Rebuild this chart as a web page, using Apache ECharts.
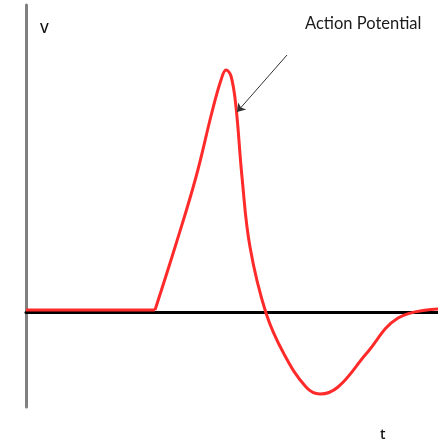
<!DOCTYPE html>
<html>
<head>
<meta charset="utf-8">
<title>Action Potential</title>
<script src="https://cdn.jsdelivr.net/npm/echarts@6/dist/echarts.min.js"></script>
<style>
html, body { margin: 0; padding: 0; background: #fff; }
#chart { width: 438px; height: 446px; }
</style>
</head>
<body>
<div id="chart"></div>
<script>
// resting phase (straight) and the spike (smoothed)
var restT = [0, 129];
var restV = [2, 2];
var spikeT = [129, 150, 170, 186, 195, 200, 205, 210, 216, 224, 240, 258, 280, 294, 312, 340, 372, 412];
var spikeV = [2, 68, 135, 200, 232, 242, 236, 205, 135, 65, -1, -42, -75, -82, -75, -42, -6, 3];
var arrowFrom = [261, 257];
var arrowTo = [211, 200];

function pairs(xs, ys) { return xs.map(function (x, i) { return [x, ys[i]]; }); }

var redLine = { color: '#ff2a2a', width: 3 };

var chart = echarts.init(document.getElementById('chart'));
chart.setOption({
	animation: false,
	grid: { left: 26, right: 0, top: 5, bottom: 39 },
	xAxis: {
		type: 'value',
		min: 0,
		max: 412,
		axisLine: { onZero: true, lineStyle: { color: '#000', width: 3 } },
		axisTick: { show: false },
		axisLabel: { show: false },
		splitLine: { show: false }
	},
	yAxis: {
		type: 'value',
		min: -95,
		max: 307,
		axisLine: { show: true, lineStyle: { color: '#808080', width: 3 } },
		axisTick: { show: false },
		axisLabel: { show: false },
		splitLine: { show: false }
	},
	series: [{
		type: 'line',
		data: pairs(restT, restV),
		symbol: 'none',
		lineStyle: redLine,
		z: 3
	}, {
		type: 'line',
		data: pairs(spikeT, spikeV),
		smooth: 0.4,
		symbol: 'none',
		lineStyle: redLine,
		z: 3,
		markLine: {
			silent: true,
			symbol: ['none', 'arrow'],
			symbolSize: 8,
			label: { show: false },
			lineStyle: { color: '#333', width: 1, type: 'solid' },
			data: [[{ coord: arrowFrom }, { coord: arrowTo }]]
		}
	}],
	graphic: [
		{ type: 'text', left: 40, top: 22, style: { text: 'V', font: '600 14px "Open Sans", sans-serif', fill: '#111' } },
		{ type: 'text', left: 305, top: 15, style: { text: 'Action Potential', font: '16.5px Lato, sans-serif', fill: '#1a1a1a' } },
		{ type: 'text', left: 380, top: 428, style: { text: 't', font: '600 14px "Open Sans", sans-serif', fill: '#111' } }
	]
});
</script>
</body>
</html>
